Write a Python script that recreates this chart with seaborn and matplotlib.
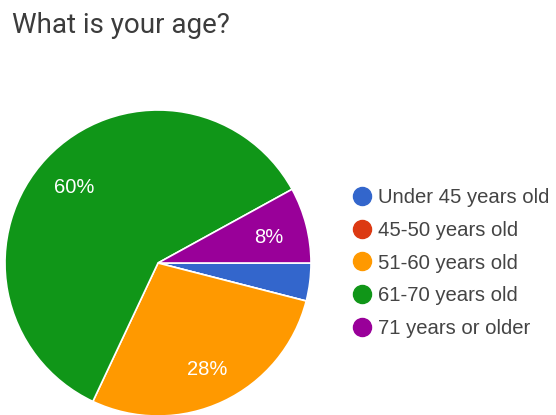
import matplotlib
matplotlib.use("Agg")
import matplotlib.pyplot as plt
import seaborn as sns
from matplotlib.lines import Line2D

sns.set_theme(style="white")
plt.rcParams['font.family'] = ['Liberation Sans', 'DejaVu Sans']

title = "What is your age?"
categories = ["Under 45 years old", "45-50 years old", "51-60 years old",
              "61-70 years old", "71 years or older"]
counts = [1, 0, 7, 15, 2]
colors = ["#3366cc", "#dc3912", "#ff9900", "#109618", "#990099"]

fig = plt.figure(figsize=(5.56, 4.15), dpi=100)
W, H = 556, 415
cx, cy, r = 158, 263, 153
ax = fig.add_axes([(cx - r) / W, (H - cy - r) / H, 2 * r / W, 2 * r / H])

def fmt(p):
    return f"{p:.0f}%" if p >= 5 else ""

wedges, texts, autotexts = ax.pie(
    counts, colors=colors, startangle=0, counterclock=False,
    autopct=fmt, pctdistance=0.75, radius=1,
    wedgeprops=dict(edgecolor="white", linewidth=1.2),
    textprops=dict(color="white", fontsize=14.5))
for t in autotexts:
    x, y = t.get_position()
    t.set_position((x, y - 0.02))
ax.set_xlim(-1, 1)
ax.set_ylim(-1, 1)
ax.set_aspect("auto")
ax.axis("off")

fig.text(12 / W, 1 - 33 / H, title, fontsize=20, color="#3c3c3c",
         va="baseline", ha="left", family=['Roboto', 'DejaVu Sans'])

handles = [Line2D([0], [0], marker="o", linestyle="", markersize=13,
                  markerfacecolor=c, markeredgecolor=c) for c in colors]
fig.legend(handles, categories, loc="upper left",
           bbox_to_anchor=(352 / W, 1 - 188 / H), frameon=False,
           fontsize=14.6, labelcolor="#444444", handletextpad=0.3,
           labelspacing=0.68, handlelength=1.0, borderaxespad=0,
           borderpad=0)

fig.savefig("out.png", dpi=100, facecolor="white")
